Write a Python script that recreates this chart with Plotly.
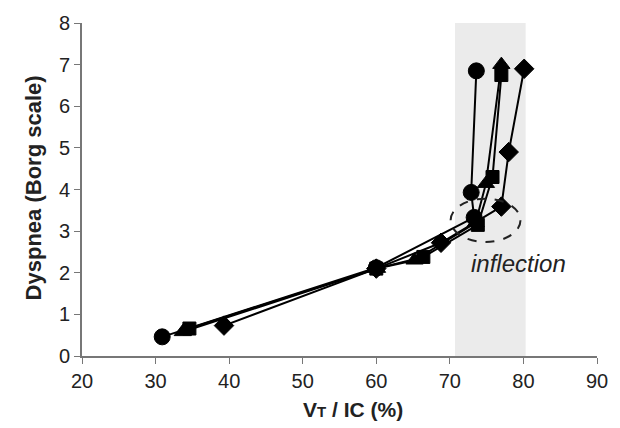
import plotly.graph_objects as go

# Data
circle_x = [30.9, 60.0, 73.3, 72.9, 73.6]
circle_y = [0.46, 2.12, 3.33, 3.93, 6.85]
triangle_x = [33.7, 60.1, 65.2, 73.5, 74.9, 77.0]
triangle_y = [0.58, 2.10, 2.30, 3.20, 4.14, 7.00]
square_x = [34.6, 60.0, 66.4, 73.8, 75.8, 77.0]
square_y = [0.66, 2.10, 2.38, 3.15, 4.30, 6.75]
diamond_x = [39.3, 60.0, 68.8, 77.0, 78.0, 80.1]
diamond_y = [0.73, 2.10, 2.72, 3.59, 4.90, 6.90]

shade_x = [70.7, 80.3]
ellipse_x = [70.1, 79.6]
ellipse_y = [2.74, 3.78]

x_ticks = [20, 30, 40, 50, 60, 70, 80, 90]
y_ticks = [0, 1, 2, 3, 4, 5, 6, 7, 8]

FONT = "Liberation Sans, Arial, sans-serif"
W, H = 620, 428
ML, MR, MT, MB = 82, 19, 19, 72
PW = W - ML - MR
PH = H - MT - MB


def px_to_paper(px, py):
    return (px - ML) / PW, (H - MB - py) / PH


fig = go.Figure()

series = [
    (diamond_x, diamond_y, "diamond", 15),
    (triangle_x, triangle_y, "triangle-up", 15),
    (square_x, square_y, "square", 13),
    (circle_x, circle_y, "circle", 16),
]
for xs, ys, sym, sz in series:
    fig.add_trace(go.Scatter(
        x=xs, y=ys, mode="lines+markers",
        line=dict(color="black", width=2),
        marker=dict(symbol=sym, size=sz, color="black",
                    line=dict(color="black", width=1)),
        showlegend=False, cliponaxis=False,
    ))

fig.add_shape(type="rect", xref="x", yref="y",
              x0=shade_x[0], x1=shade_x[1], y0=0, y1=8,
              fillcolor="#ebebeb", line=dict(width=0), layer="below")
fig.add_shape(type="circle", xref="x", yref="y",
              x0=ellipse_x[0], x1=ellipse_x[1], y0=ellipse_y[0], y1=ellipse_y[1],
              line=dict(color="#222222", width=2, dash="dash"))

fig.add_annotation(x=79.3, y=2.23, xref="x", yref="y", text="<i>inflection</i>",
                   showarrow=False, font=dict(family=FONT, size=24, color="#222222"))

xt_x, xt_y = px_to_paper(355, 410)
fig.add_annotation(x=xt_x, y=xt_y, xref="paper", yref="paper", yanchor="middle",
                   text="<b>V<span style='font-size:15px'>T</span> / IC (%)</b>",
                   showarrow=False, font=dict(family=FONT, size=21, color="#222222"))

yt_x, yt_y = px_to_paper(33, 186)
fig.add_annotation(x=yt_x, y=yt_y, xref="paper", yref="paper",
                   xanchor="center", yanchor="middle", textangle=-90,
                   text="<b>Dyspnea (Borg scale)</b>",
                   showarrow=False, font=dict(family=FONT, size=22, color="#222222"))

fig.update_layout(
    width=W, height=H,
    margin=dict(l=ML, r=MR, t=MT, b=MB),
    paper_bgcolor="white", plot_bgcolor="white",
    font=dict(family=FONT, size=20, color="#222222"),
    xaxis=dict(range=[20, 90], tickvals=x_ticks, ticks="outside", ticklen=6,
               tickcolor="#777777", showline=True, linecolor="#777777", linewidth=2,
               showgrid=False, zeroline=False),
    yaxis=dict(range=[0, 8], tickvals=y_ticks, ticks="outside", ticklen=6,
               tickcolor="#777777", showline=True, linecolor="#777777", linewidth=2,
               showgrid=False, zeroline=False),
)

fig.write_html("out.html")
